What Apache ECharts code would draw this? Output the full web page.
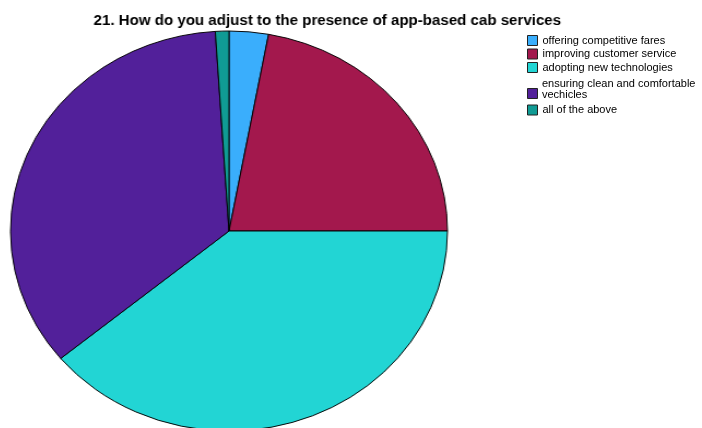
<!DOCTYPE html>
<html>
<head>
<meta charset="utf-8">
<script src="https://cdn.jsdelivr.net/npm/echarts@6/dist/echarts.min.js"></script>
<style>
html,body{margin:0;padding:0;background:#fff;}
#wrap{position:relative;width:702px;height:428px;overflow:hidden;background:#fff;}
#pie,#labels{position:absolute;left:0;top:0;width:702px;height:428px;}
/* the pie and the title are drawn slightly widened, so the pie is an oval */
#pie{transform:scaleX(1.0925);transform-origin:229px 231px;}
</style>
</head>
<body>
<div id="wrap">
  <div id="pie"></div>
  <div id="labels"></div>
</div>
<script>
// Survey answers and share of respondents (%)
const categories = [
  'offering competitive fares',
  'improving customer service',
  'adopting new technologies',
  'ensuring clean and comfortable\nvechicles',
  'all of the above'
];
const shares = [2.9, 22.1, 39.0, 35.0, 1.0];
const colors = ['#3aaefc', '#a3184d', '#22d5d4', '#52209a', '#109b94'];
const titleText = '21. How do you adjust to the presence of app-based cab services';

const pieData = categories.map((name, i) => ({ name, value: shares[i], itemStyle: { color: colors[i] } }));

// Pie chart with title
const pieChart = echarts.init(document.getElementById('pie'));
pieChart.setOption({
  animation: false,
  title: {
    text: titleText,
    left: 319,
    textAlign: 'center',
    top: 14.5,
    padding: 0,
    textStyle: { fontFamily: 'Liberation Sans', fontSize: 13.8, fontWeight: 'bold', color: '#000' }
  },
  series: [{
    type: 'pie',
    center: [229, 231],
    radius: 200,
    startAngle: 90,
    clockwise: true,
    label: { show: false },
    labelLine: { show: false },
    emphasis: { disabled: true },
    itemStyle: { borderColor: '#000', borderWidth: 0.95 },
    data: pieData
  }]
});

// Legend
const legendBase = {
  orient: 'vertical',
  left: 527,
  padding: 0,
  itemWidth: 10,
  itemHeight: 10,
  itemGap: 2.5,
  icon: 'rect',
  selectedMode: false,
  itemStyle: { borderColor: '#222', borderWidth: 1 },
  textStyle: { fontFamily: 'Liberation Sans', fontSize: 11, lineHeight: 11, color: '#000' }
};
const labelChart = echarts.init(document.getElementById('labels'));
labelChart.setOption({
  animation: false,
  legend: [
    Object.assign({}, legendBase, { top: 35, data: categories.slice(0, 3) }),
    // two-line entry: swatch sits beside the second line
    Object.assign({}, legendBase, { top: 88, data: [categories[3]], formatter: () => '' }),
    Object.assign({}, legendBase, { top: 78.5, icon: 'none', data: [categories[3]] }),
    Object.assign({}, legendBase, { top: 104.5, data: [categories[4]] })
  ],
  series: [{
    type: 'pie',
    center: [-1000, -1000],
    radius: 0,
    silent: true,
    label: { show: false },
    labelLine: { show: false },
    data: pieData
  }]
});
</script>
</body>
</html>
